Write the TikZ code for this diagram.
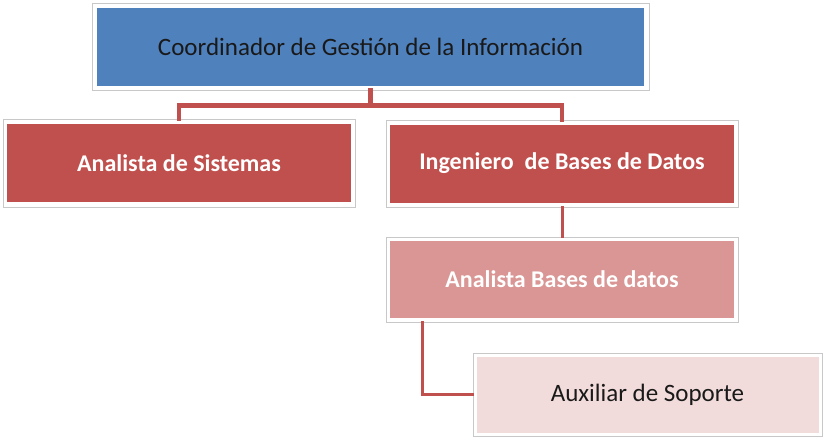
\documentclass[tikz,border=0pt]{standalone}
\usepackage{fontspec}
\setmainfont{Carlito}
\usetikzlibrary{shadows}
\definecolor{cblue}{HTML}{4F81BD}
\definecolor{cred}{HTML}{C0504D}
\definecolor{cpink}{HTML}{D99694}
\definecolor{clight}{HTML}{F2DCDB}
\definecolor{cframe}{HTML}{C8C8C8}
\tikzset{
  frame/.style={rectangle, draw=cframe, fill=white, line width=1pt, inner sep=0pt,
    drop shadow={shadow xshift=1pt, shadow yshift=-1pt, opacity=0.18, fill=black}},
  fillbox/.style={rectangle, inner sep=0pt, text centered},
  wtext/.style={text=white, font=\fontsize{24}{29}\bfseries\selectfont},
  btext/.style={text=black!90, font=\fontsize{25}{30}\selectfont},
  conn/.style={draw=cred, line cap=rect, line join=miter}
}
\begin{document}
\begin{tikzpicture}[x=1pt,y=-1pt]
\useasboundingbox (0,0) rectangle (823,439);
% frames
\node[frame, minimum width=557pt, minimum height=87pt] (top) at (370.5,46.5) {};
\node[frame, minimum width=352pt, minimum height=88pt] (as) at (179,163) {};
\node[frame, minimum width=352pt, minimum height=87pt] (ing) at (562,163.5) {};
\node[frame, minimum width=352pt, minimum height=85pt] (ab) at (562,279.5) {};
\node[frame, minimum width=349pt, minimum height=83pt] (aux) at (647.5,394.5) {};
% fills with texts
\node[fillbox, fill=cblue, btext, minimum width=547pt, minimum height=78pt] (topt) at (top.center) {Coordinador de Gestión de la Información};
\node[fillbox, fill=cred, wtext, minimum width=344pt, minimum height=78pt] (ast) at (as.center) {Analista de Sistemas};
\node[fillbox, fill=cred, wtext, minimum width=344pt, minimum height=78pt] (ingt) at (ing.center) {Ingeniero\ \ de Bases de Datos};
\node[fillbox, fill=cpink, wtext, minimum width=344pt, minimum height=77pt] (abt) at (ab.center) {Analista Bases de datos};
\node[fillbox, fill=clight, btext, minimum width=342pt, minimum height=76pt] (auxt) at (aux.center) {Auxiliar de Soporte};
% connectors
\draw[conn, line width=4.5pt] (top.south) -- ++(0,15) coordinate (bus);
\draw[conn, line width=4.5pt] (as.north) |- (bus) -| (ing.north);
\draw[conn, line width=3pt] (ing.south) -- (ab.north);
\draw[conn, line width=2.5pt] ([xshift=37pt]ab.south west) |- (aux.west);
\end{tikzpicture}
\end{document}
